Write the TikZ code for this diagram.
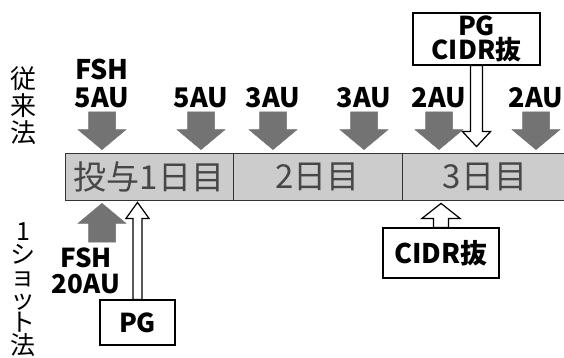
\documentclass[tikz,border=0pt]{standalone}
\usepackage{fontspec}
\setmainfont{Noto Sans CJK JP}
\usetikzlibrary{calc}

\begin{document}
\begin{tikzpicture}[x=1pt, y=-1pt, thick]
  \tikzstyle{day}=[rectangle, draw=black!80, line width=0.8pt, fill=black!20,
                   minimum height=47pt, inner sep=0pt, text=black!72,
                   font=\fontsize{33}{33}\selectfont]
  \tikzstyle{dose}=[inner sep=0pt, align=center,
                    font=\fontsize{27}{28}\selectfont\bfseries]
  \tikzstyle{tbox}=[rectangle, draw, line width=1.2pt, fill=white, inner sep=0pt,
                    align=center, font=\fontsize{26}{22}\selectfont\bfseries]
  \tikzstyle{vlabel}=[inner sep=0pt, align=center]
  \tikzset{fat/.style n args={3}{to path={
      ($(\tikztostart)!#1!90:(\tikztotarget)$)
      -- ($($(\tikztotarget)!#3!(\tikztostart)$)!#1!90:(\tikztotarget)$)
      -- ($($(\tikztotarget)!#3!(\tikztostart)$)!#2!90:(\tikztotarget)$)
      -- (\tikztotarget)
      -- ($($(\tikztotarget)!#3!(\tikztostart)$)!#2!-90:(\tikztotarget)$)
      -- ($($(\tikztotarget)!#3!(\tikztostart)$)!#1!-90:(\tikztotarget)$)
      -- ($(\tikztostart)!#1!-90:(\tikztotarget)$)
      -- cycle}}}
  \tikzstyle{grayarr}=[fat={13.5pt}{24pt}{20pt}, fill=black!55, draw=black!55, line width=0.5pt]
  \tikzstyle{openarr}=[fill=white, draw=black, line width=1.2pt]

  \useasboundingbox (0,0) rectangle (564,358);

  % time bar
  \node[day, minimum width=168pt] at (149,176.5)   (d1) {投与1日目};
  \node[day, minimum width=169pt] at (317.5,176.5) (d2) {2日目};
  \node[day, minimum width=166pt] at (485,176.5)   (d3) {3日目};

  % method labels
  \node[vlabel, anchor=north, font=\fontsize{26}{27}\selectfont]   at (23,66)  (conv) {従\\来\\法};
  \node[vlabel, anchor=north, font=\fontsize{25}{22.8}\selectfont] at (23,222) (once) {1\\シ\\ョ\\ッ\\ト\\法};

  % daily doses
  \node[dose, anchor=south] at (102,108) (f1) {FSH\\5AU};
  \node[dose, anchor=south] at (201,108) (f2) {5AU};
  \node[dose, anchor=south] at (273,108) (f3) {3AU};
  \node[dose, anchor=south] at (364,108) (f4) {3AU};
  \node[dose, anchor=south] at (439,108) (f5) {2AU};
  \node[dose, anchor=south] at (536,108) (f6) {2AU};
  \foreach \i in {1,...,6}
    \draw[grayarr] ($(f\i.south)+(0,-4pt)$) to ($(f\i.south |- d1.north)+(0,3pt)$);

  % single shot
  \node[dose, anchor=north, font=\fontsize{26}{26}\selectfont\bfseries] at (86,247) (f7) {FSH\\20AU};
  \draw[grayarr] ($(f7.north)+(16pt,5pt)$) to ($(f7.north |- d1.south)+(16pt,-3pt)$);

  % PG and CIDR
  \node[tbox, minimum width=127pt, minimum height=52pt] at (476.5,39) (pgtop) {PG\\CIDR抜};
  \draw[openarr, fat={6pt}{14pt}{15pt}] (pgtop.south) to ($(pgtop.south |- d3.north)+(0,6pt)$);
  \node[tbox, minimum width=75pt, minimum height=45pt] at (137.5,322.5) (pg) {PG};
  \draw[openarr, fat={4.5pt}{11.5pt}{16pt}] (pg.north) to ($(pg.north |- d1.south)+(0,-2pt)$);
  \node[tbox, font=\fontsize{27}{27}\selectfont\bfseries, minimum width=116pt, minimum height=50pt] at (441,253) (cidr) {CIDR抜};
  \draw[openarr, fat={7.5pt}{19pt}{15pt}] (cidr.north) to ($(cidr.north |- d3.south)+(0,-3pt)$);
\end{tikzpicture}
\end{document}
